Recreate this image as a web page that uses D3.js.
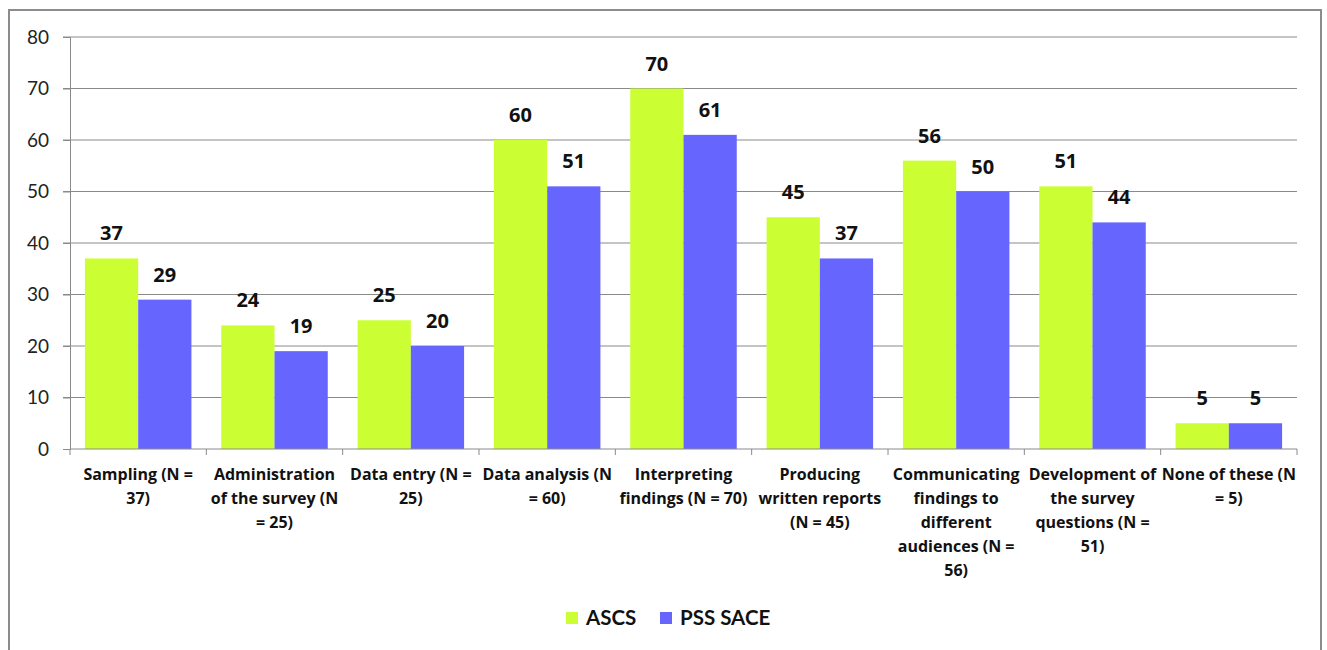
<!DOCTYPE html>
<html>
<head>
<meta charset="utf-8">
<script src="https://cdn.jsdelivr.net/npm/d3@7"></script>
<style>
    body { margin: 0; background: #fff; }
    svg { display: block; font-family: Lato, "Open Sans", sans-serif; }
</style>
</head>
<body>
<svg id="chart" width="1327" height="650"></svg>
<script>
// category labels, wrapped the way the original chart wraps them
const categoryLines = [
    ["Sampling (N =", "37)"],
    ["Administration", "of the survey (N", "= 25)"],
    ["Data entry (N =", "25)"],
    ["Data analysis (N", "= 60)"],
    ["Interpreting", "findings (N = 70)"],
    ["Producing", "written reports", "(N = 45)"],
    ["Communicating", "findings to", "different", "audiences (N =", "56)"],
    ["Development of", "the survey", "questions (N =", "51)"],
    ["None of these (N", "= 5)"]
];
const seriesNames = ["ASCS", "PSS SACE"];
const ascs = [37, 24, 25, 60, 70, 45, 56, 51, 5];
const pssSace = [29, 19, 20, 51, 61, 37, 50, 44, 5];
const yTicks = [0, 10, 20, 30, 40, 50, 60, 70, 80];
const colors = ["#ccff33", "#6666ff"];

const svg = d3.select("#chart");

// outer frame
svg.append("rect")
    .attr("x", 9).attr("y", 10)
    .attr("width", 1312).attr("height", 660)
    .attr("fill", "none")
    .attr("stroke", "#8c8c8c")
    .attr("stroke-width", 2);

const plot = { left: 70, right: 1297, top: 37, bottom: 449 };

const x = d3.scaleBand()
    .domain(d3.range(categoryLines.length))
    .range([plot.left, plot.right])
    .paddingInner(0)
    .paddingOuter(0);

const inner = d3.scaleBand()
    .domain(d3.range(seriesNames.length))
    .range([0, x.bandwidth()])
    .paddingOuter(0.28);

const y = d3.scaleLinear()
    .domain([0, 80])
    .range([plot.bottom, plot.top]);

// grid lines
svg.append("g")
    .selectAll("line")
    .data(yTicks.slice(1))
    .enter()
    .append("line")
    .attr("x1", plot.left - 7)
    .attr("x2", plot.right)
    .attr("y1", d => y(d))
    .attr("y2", d => y(d))
    .attr("stroke", "#8a8a8a")
    .attr("stroke-width", 1);

// y axis
const yAxis = svg.append("g")
    .attr("transform", `translate(${plot.left},0)`)
    .call(d3.axisLeft(y).tickValues(yTicks).tickSize(7).tickPadding(14));
yAxis.select(".domain").attr("stroke", "#8a8a8a");
yAxis.selectAll(".tick line").attr("stroke", "#8a8a8a");
yAxis.selectAll(".tick text")
    .attr("font-size", 19)
    .attr("font-family", "Lato, sans-serif")
    .attr("fill", "#222");

// bars
const series = [ascs, pssSace];
const groups = svg.append("g")
    .selectAll("g")
    .data(categoryLines)
    .enter()
    .append("g")
    .attr("transform", (_, i) => `translate(${x(i)},0)`);

series.forEach((values, s) => {
    groups.append("rect")
        .attr("x", inner(s))
        .attr("width", inner.bandwidth())
        .attr("y", (_, i) => y(values[i]))
        .attr("height", (_, i) => y(0) - y(values[i]))
        .attr("fill", colors[s]);

    groups.append("text")
        .attr("x", inner(s) + inner.bandwidth() / 2)
        .attr("y", (_, i) => y(values[i]) - 18)
        .attr("text-anchor", "middle")
        .attr("font-size", 20)
        .attr("font-family", "'Open Sans', sans-serif")
        .attr("font-weight", "bold")
        .attr("fill", "#111")
        .text((_, i) => values[i]);
});

// x axis line with ticks between categories
const xAxisG = svg.append("g");
xAxisG.append("line")
    .attr("x1", plot.left).attr("x2", plot.right)
    .attr("y1", plot.bottom).attr("y2", plot.bottom)
    .attr("stroke", "#8a8a8a");
xAxisG.selectAll(".xtick")
    .data(d3.range(categoryLines.length + 1))
    .enter()
    .append("line")
    .attr("class", "xtick")
    .attr("x1", d => plot.left + d * x.bandwidth())
    .attr("x2", d => plot.left + d * x.bandwidth())
    .attr("y1", plot.bottom)
    .attr("y2", plot.bottom + 6)
    .attr("stroke", "#8a8a8a");

// category labels
groups.append("text")
    .attr("text-anchor", "middle")
    .attr("font-size", 16)
    .attr("font-family", "'Open Sans', sans-serif")
    .attr("font-weight", "bold")
    .attr("fill", "#111")
    .each(function(lines) {
        d3.select(this).selectAll("tspan")
            .data(lines)
            .enter()
            .append("tspan")
            .attr("x", x.bandwidth() / 2)
            .attr("y", (_, j) => 480 + j * 24)
            .text(d => d);
    });

// legend
const legend = svg.append("g").attr("transform", "translate(566,618)");
const legendX = [0, 94];
seriesNames.forEach((name, s) => {
    const item = legend.append("g").attr("transform", `translate(${legendX[s]},0)`);
    item.append("rect")
        .attr("x", 0).attr("y", -6)
        .attr("width", 12).attr("height", 12)
        .attr("fill", colors[s]);
    item.append("text")
        .attr("x", 20)
        .attr("y", 7)
        .attr("font-size", 20.5)
        .attr("font-weight", "bold")
        .attr("fill", "#111")
        .text(name);
});
</script>
</body>
</html>
